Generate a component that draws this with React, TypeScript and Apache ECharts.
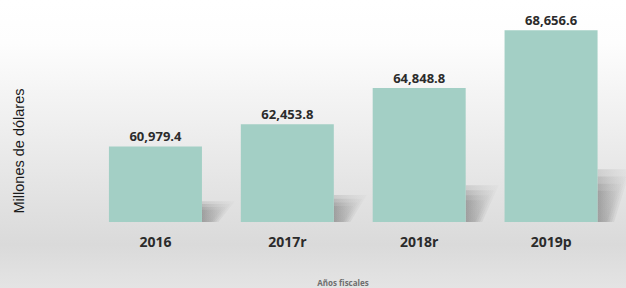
import React, { useEffect, useRef } from "react";
import * as echarts from "echarts";

const categories = ["2016", "2017r", "2018r", "2019p"];
const values = [60979.4, 62453.8, 64848.8, 68656.6];
const valueLabels = ["60,979.4", "62,453.8", "64,848.8", "68,656.6"];
const yTitle = "Millones de dólares";
const xTitle = "Años fiscales";

export default function App() {
  const ref = useRef<HTMLDivElement>(null);
  useEffect(() => {
    if (!ref.current) return;
    const chart = echarts.init(ref.current, null, { renderer: "svg" });
    const yMin = 56000;
    chart.setOption({
      animation: false,
      backgroundColor: new echarts.graphic.LinearGradient(0, 0, 0, 1, [
        { offset: 0, color: "#ffffff" },
        { offset: 0.15, color: "#fdfdfd" },
        { offset: 0.85, color: "#dadada" },
        { offset: 1, color: "#e4e4e4" },
      ]),
      grid: { left: 89.5, right: 9, top: 10, bottom: 66 },
      xAxis: {
        type: "category",
        data: categories,
        axisLine: { show: false },
        axisTick: { show: false },
        axisLabel: {
          margin: 12,
          fontFamily: "Open Sans",
          fontWeight: "bold",
          fontSize: 14,
          color: "#2b2b2b",
        },
      },
      yAxis: {
        type: "value",
        min: yMin,
        max: 70000,
        show: false,
        splitLine: { show: false },
      },
      graphic: [
        {
          type: "text",
          x: 19,
          y: 151,
          rotation: Math.PI / 2,
          style: {
            text: yTitle,
            fontFamily: "Liberation Sans",
            fontSize: 14.5,
            fill: "#1a1a1a",
            align: "center",
            verticalAlign: "middle",
          },
        },
        {
          type: "text",
          x: 343,
          y: 282,
          style: {
            text: xTitle,
            fontFamily: "Open Sans",
            fontWeight: "bold",
            fontSize: 8,
            fill: "#6e6e6e",
            align: "center",
            verticalAlign: "middle",
          },
        },
      ],
      series: [
        {
          type: "custom",
          z: 1,
          data: values.map((v, i) => [i, v]),
          renderItem: (params: any, api: any) => {
            const idx = api.value(0);
            const v = api.value(1);
            const top = api.coord([idx, v]);
            const base = api.coord([idx, yMin]);
            const half = 93 / 2;
            const xr = top[0] + half;
            const H = (base[1] - top[1]) * 0.25;
            const layers = [1.1, 0.95, 0.8, 0.65];
            const children = layers.map((s) => {
              const h = H * s;
              const w = 30 * s;
              return {
                type: "polygon",
                shape: {
                  points: [
                    [xr, base[1]],
                    [xr, base[1] - h],
                    [xr + w, base[1] - h],
                    [xr + w * 0.5, base[1]],
                  ],
                },
                style: {
                  fill: new echarts.graphic.LinearGradient(0, 0, 1, 0, [
                    { offset: 0, color: "rgba(120,120,120,0.22)" },
                    { offset: 1, color: "rgba(150,150,150,0.04)" },
                  ]),
                },
              };
            });
            return { type: "group", children };
          },
        },
        {
          type: "bar",
          z: 2,
          data: values,
          barWidth: 93,
          itemStyle: { color: "#a3cfc5" },
          label: {
            show: true,
            position: "top",
            distance: 4,
            formatter: (p: any) => valueLabels[p.dataIndex],
            fontFamily: "Open Sans",
            fontWeight: "bold",
            fontSize: 13,
            color: "#2b2b2b",
          },
        },
      ],
    });
    return () => chart.dispose();
  }, []);
  return (
    <div
      ref={ref}
      style={{ position: "absolute", left: 0, top: 0, width: 626, height: 288 }}
    />
  );
}
